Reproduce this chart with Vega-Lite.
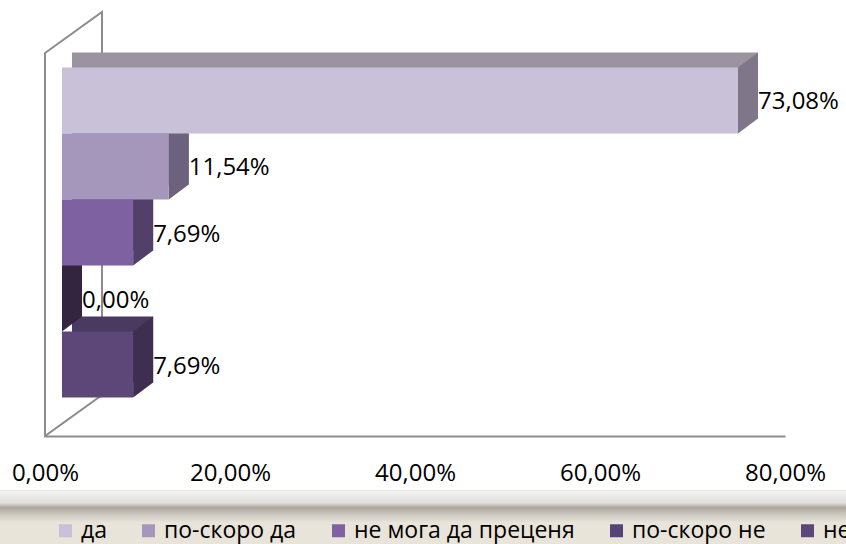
{
  "$schema": "https://vega.github.io/schema/vega-lite/v6.json",
  "width": 846,
  "height": 490,
  "autosize": {"type": "none"},
  "padding": {"left": 0, "top": 0, "right": 0, "bottom": 54},
  "background": "#E9E4D9",
  "config": {
    "view": {"fill": "white", "stroke": null},
    "locale": {"number": {"decimal": ",", "thousands": " ", "grouping": [3], "currency": ["", " лв."]}},
    "font": "Open Sans",
    "axis": {"offset": -54, "title": null, "grid": false, "ticks": false, "tickSize": 0, "domainColor": "#8C8C8C", "domainWidth": 2, "labelPadding": 25, "labelFont": "Open Sans", "labelFontSize": 24, "labelColor": "#000000", "labelFlush": false, "labelOverlap": false}
  },
  "datasets": {
    "answers": [
      {"k": "да", "v": 0.7308},
      {"k": "по-скоро да", "v": 0.1154},
      {"k": "не мога да преценя", "v": 0.0769},
      {"k": "по-скоро не", "v": 0},
      {"k": "не", "v": 0.0769}
    ],
    "wall": [{"v": 0}]
  },
  "layer": [
    {
      "data": {"name": "wall"},
      "mark": {"type": "point", "shape": "M0,-0.824L0.2446,-1L0.2446,0.6438L0,0.8197Z", "size": 217156, "filled": true, "fill": "white", "stroke": "#8C8C8C", "strokeWidth": 2, "opacity": 1},
      "encoding": {
        "x": {"field": "v", "type": "quantitative", "scale": {"domain": [0, 0.8], "range": [45, 785], "nice": false},
          "axis": {"orient": "bottom", "values": [0, 0.2, 0.4, 0.6, 0.8], "format": ".2%", "offset": -54}}
      }
    },
    {
      "data": {"name": "answers"},
      "encoding": {
        "x": {"field": "v", "type": "quantitative", "stack": null,
          "scale": {"domain": [0, 0.8], "range": [45, 785], "nice": false},
          "axis": {"orient": "bottom", "values": [0, 0.2, 0.4, 0.6, 0.8], "format": ".2%", "offset": -54}},
        "y": {"field": "k", "type": "nominal", "sort": ["да", "по-скоро да", "не мога да преценя", "по-скоро не", "не"],
          "scale": {"range": [53, 436], "paddingInner": 0, "paddingOuter": 0.4}, "axis": null}
      },
      "resolve": {"scale": {"color": "independent"}, "legend": {"color": "independent"}},
      "layer": [
        {
          "mark": {"type": "bar", "xOffset": 37, "x2Offset": 27, "yOffset": -27, "y2Offset": -27},
          "encoding": {
            "x2": {"datum": 0},
            "color": {"field": "k", "type": "nominal", "legend": null,
              "scale": {"domain": ["да", "по-скоро да", "не мога да преценя", "по-скоро не", "не"], "range": ["#9B949F", "#857B99", "#67508A", "#3A2B49", "#4A3960"]}}
          }
        },
        {
          "mark": {"type": "point", "shape": "M0,-0.6875L0.4167,-1L0.4167,0.375L0,0.6875Z", "size": 9216, "filled": true, "opacity": 1, "strokeWidth": 0, "xOffset": 17, "yOffset": -12},
          "encoding": {
            "color": {"field": "k", "type": "nominal", "legend": null,
              "scale": {"domain": ["да", "по-скоро да", "не мога да преценя", "по-скоро не", "не"], "range": ["#7F7789", "#6C627E", "#52406B", "#33253F", "#3E2E50"]}}
          }
        },
        {
          "mark": {"type": "bar", "xOffset": 17, "x2Offset": 17, "yOffset": -12, "y2Offset": -12},
          "encoding": {
            "x2": {"datum": 0},
            "color": {"field": "k", "type": "nominal",
              "scale": {"domain": ["да", "по-скоро да", "не мога да преценя", "по-скоро не", "не"], "range": ["#C8C1D7", "#A597BB", "#7E61A0", "#564378", "#5D4778"]},
              "legend": {"title": null, "orient": "none", "legendX": -9, "legendY": 456, "direction": "horizontal", "columns": 5, "padding": 63,
                "symbolType": "square", "symbolSize": 169, "symbolStrokeWidth": 0,
                "labelFont": "Open Sans", "labelFontSize": 23, "labelColor": "#000000", "labelOffset": 4, "labelLimit": 1000, "columnPadding": 30,
                "encode": {"legend": {"update": {"fill": {"value": {"gradient": "linear", "x1": 0, "y1": 0, "x2": 0, "y2": 1, "stops": [
                  {"offset": 0, "color": "rgba(255,255,255,0)"}, {"offset": 0.229, "color": "rgba(255,255,255,0)"}, {"offset": 0.236, "color": "#F2F2F2"}, {"offset": 0.314, "color": "#E0DFDC"}, {"offset": 0.344, "color": "#A9A59D"}, {"offset": 0.384, "color": "#C9C5BC"}, {"offset": 0.444, "color": "#E9E4D9"}, {"offset": 1, "color": "#E9E4D9"}]}}}}}}
            }
          }
        },
        {
          "mark": {"type": "text", "align": "left", "baseline": "middle", "dx": 37, "yOffset": -10, "font": "Open Sans", "fontSize": 24, "color": "#000000"},
          "encoding": {
            "text": {"field": "v", "type": "quantitative", "format": ".2%"}
          }
        }
      ]
    }
  ]
}
